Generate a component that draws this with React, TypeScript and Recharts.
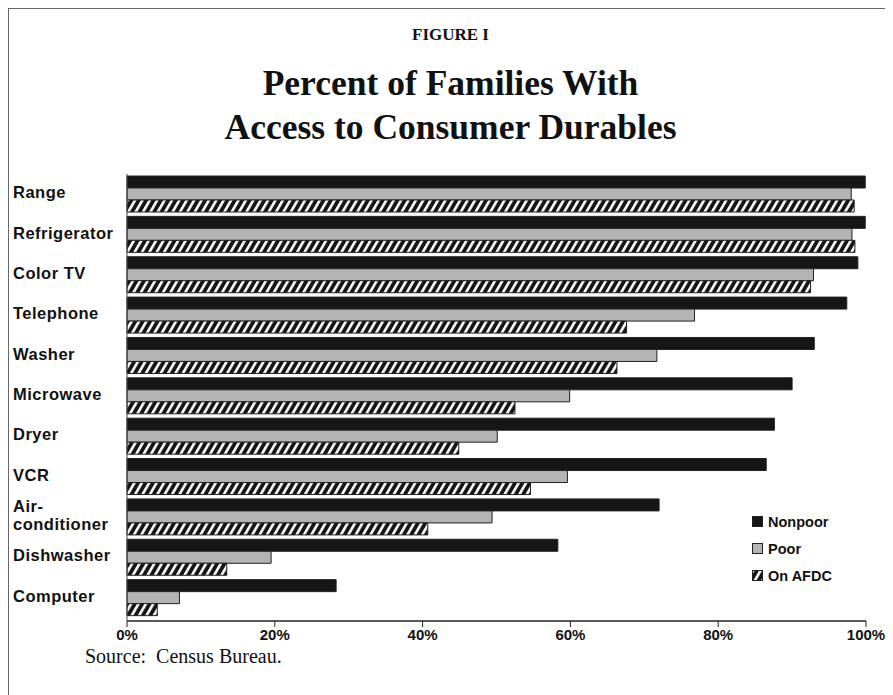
import { BarChart, Bar, XAxis, YAxis } from 'recharts';

const categories = ['Range', 'Refrigerator', 'Color TV', 'Telephone', 'Washer', 'Microwave', 'Dryer', 'VCR', 'Air-conditioner', 'Dishwasher', 'Computer'];
const nonpoor = [99.9, 99.9, 98.9, 97.4, 93.0, 90.0, 87.6, 86.5, 72.0, 58.3, 28.3];
const poor = [98.0, 98.1, 92.9, 76.8, 71.7, 59.9, 50.1, 59.6, 49.4, 19.5, 7.1];
const afdc = [98.4, 98.5, 92.5, 67.6, 66.3, 52.5, 44.9, 54.6, 40.7, 13.5, 4.1];
const xTicks = [0, 20, 40, 60, 80, 100];

const data = categories.map((name, i) => ({
  name,
  nonpoor: nonpoor[i],
  poor: poor[i],
  afdc: afdc[i],
}));

const sans = 'Arial, "Liberation Sans", Helvetica, sans-serif';
const serif = '"Times New Roman", "Liberation Serif", Times, serif';

const series = [
  { key: 'nonpoor', label: 'Nonpoor', fill: '#161616' },
  { key: 'poor', label: 'Poor', fill: '#b4b4b4' },
  { key: 'afdc', label: 'On AFDC', fill: 'url(#hatch)' },
];

const labelStyle = { fontFamily: sans, fontWeight: 'bold' as const, fontSize: 16.5, letterSpacing: 0.5 };

const CategoryTick = ({ y, payload }: any) => {
  const name: string = payload.value;
  if (name.startsWith('Air-')) {
    return (
      <text x={5} y={y - 2} fill="#111" style={labelStyle}>
        <tspan x={5} dy={-9} dominantBaseline="central">Air-</tspan>
        <tspan x={5} dy={17.5} dominantBaseline="central">conditioner</tspan>
      </text>
    );
  }
  return (
    <text x={5} y={y - 2} dominantBaseline="central" fill="#111" style={labelStyle}>
      {name}
    </text>
  );
};

export default function App() {
  return (
    <div style={{ position: 'relative', width: 885, height: 687, background: '#fff' }}>
      <div style={{ position: 'absolute', left: 0, top: 0, width: 885, height: 1, background: '#666' }} />
      <div style={{ position: 'absolute', left: 0, top: 0, width: 1, height: 687, background: '#666' }} />

      <div style={{ position: 'absolute', left: 0, top: 17, width: 885, textAlign: 'center', fontFamily: serif, fontWeight: 'bold', fontSize: 17, lineHeight: '20px', color: '#111' }}>
        FIGURE I
      </div>
      <div style={{ position: 'absolute', left: 0, top: 53, width: 885, textAlign: 'center', fontFamily: serif, fontWeight: 'bold', fontSize: 35.5, lineHeight: '44px', color: '#111' }}>
        Percent of Families With
        <br />
        Access to Consumer Durables
      </div>

      <div style={{ position: 'absolute', left: 0, top: 0 }}>
        <BarChart
          width={885}
          height={660}
          data={data}
          layout="vertical"
          margin={{ top: 166, right: 27, bottom: 17, left: 0 }}
          barGap={0}
          barSize={12}
        >
          <defs>
            <pattern id="hatch" patternUnits="userSpaceOnUse" width={6.4} height={6.4} patternTransform="rotate(30)">
              <rect x={0} y={0} width={6.4} height={6.4} fill="#161616" />
              <rect x={0} y={0} width={2.6} height={6.4} fill="#fff" />
            </pattern>
          </defs>
          <XAxis
            type="number"
            domain={[0, 100]}
            ticks={xTicks}
            tickFormatter={(v) => `${v}%`}
            height={30}
            axisLine={{ stroke: '#222', strokeWidth: 1.5 }}
            tickLine={{ stroke: '#222' }}
            tickSize={6}
            tick={{ fill: '#111', fontSize: 15, fontWeight: 'bold', fontFamily: sans }}
          />
          <YAxis
            type="category"
            dataKey="name"
            width={119}
            padding={{ top: 0, bottom: 3 }}
            axisLine={{ stroke: '#444' }}
            tickLine={false}
            tick={<CategoryTick />}
            interval={0}
          />
          {series.map((s) => (
            <Bar
              key={s.key}
              dataKey={s.key}
              name={s.label}
              fill={s.fill}
              stroke="#222"
              strokeWidth={1}
              isAnimationActive={false}
            />
          ))}
        </BarChart>
      </div>

      {/* legend */}
      <div style={{ position: 'absolute', left: 744, top: 500, fontFamily: sans, fontWeight: 'bold', fontSize: 14.5, color: '#111' }}>
        {series.map((s) => (
          <div key={s.key} style={{ display: 'flex', alignItems: 'center', height: 27 }}>
            <svg width={11} height={11} style={{ marginRight: 5 }}>
              <rect x={0.5} y={0.5} width={10} height={10} fill={s.fill} stroke="#222" />
            </svg>
            <span>{s.label}</span>
          </div>
        ))}
      </div>

      <div style={{ position: 'absolute', left: 77, top: 636, fontFamily: serif, fontSize: 20, lineHeight: '24px', color: '#111', whiteSpace: 'pre' }}>
        {'Source:  Census Bureau.'}
      </div>
    </div>
  );
}
